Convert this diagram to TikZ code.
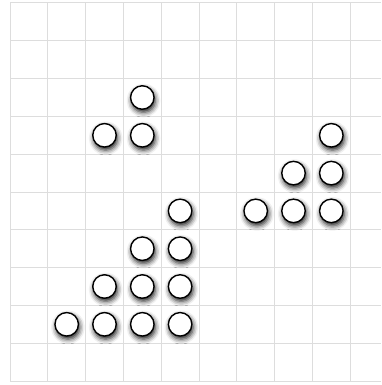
\documentclass[tikz,border=0pt]{standalone}
\usetikzlibrary{shadows.blur}
\definecolor{gridgray}{RGB}{221,221,221}
\begin{document}
\begin{tikzpicture}[x=1pt,y=-1pt,
  gridline/.style={draw=gridgray,line width=1pt},
  stone/.style={circle,draw=black,line width=1.4pt,fill=white,minimum size=23.5pt,inner sep=0pt,
    blur shadow={shadow xshift=1.2pt,shadow yshift=-3pt,shadow blur radius=5pt,shadow blur extra rounding=1pt,shadow opacity=90}}]
\useasboundingbox (0,0) rectangle (381,385);
\foreach \k in {0,...,9} \draw[gridline] ({10+37.8*\k},3) -- ({10+37.8*\k},381);
\foreach \k in {0,...,10} \draw[gridline] (10,{3+37.8*\k}) -- (381,{3+37.8*\k});
\foreach \n/\c/\r in {a/3/2, b/2/3, c/3/3, d/4/5, e/3/6, f/4/6, g/2/7, h/3/7, i/4/7,
  j/1/8, k/2/8, l/3/8, m/4/8, n/8/3, o/7/4, p/8/4, q/6/5, r/7/5, s/8/5}
  \node[stone] (\n) at ({10+37.8*\c+18.9},{3+37.8*\r+18.9}) {};
\end{tikzpicture}
\end{document}
